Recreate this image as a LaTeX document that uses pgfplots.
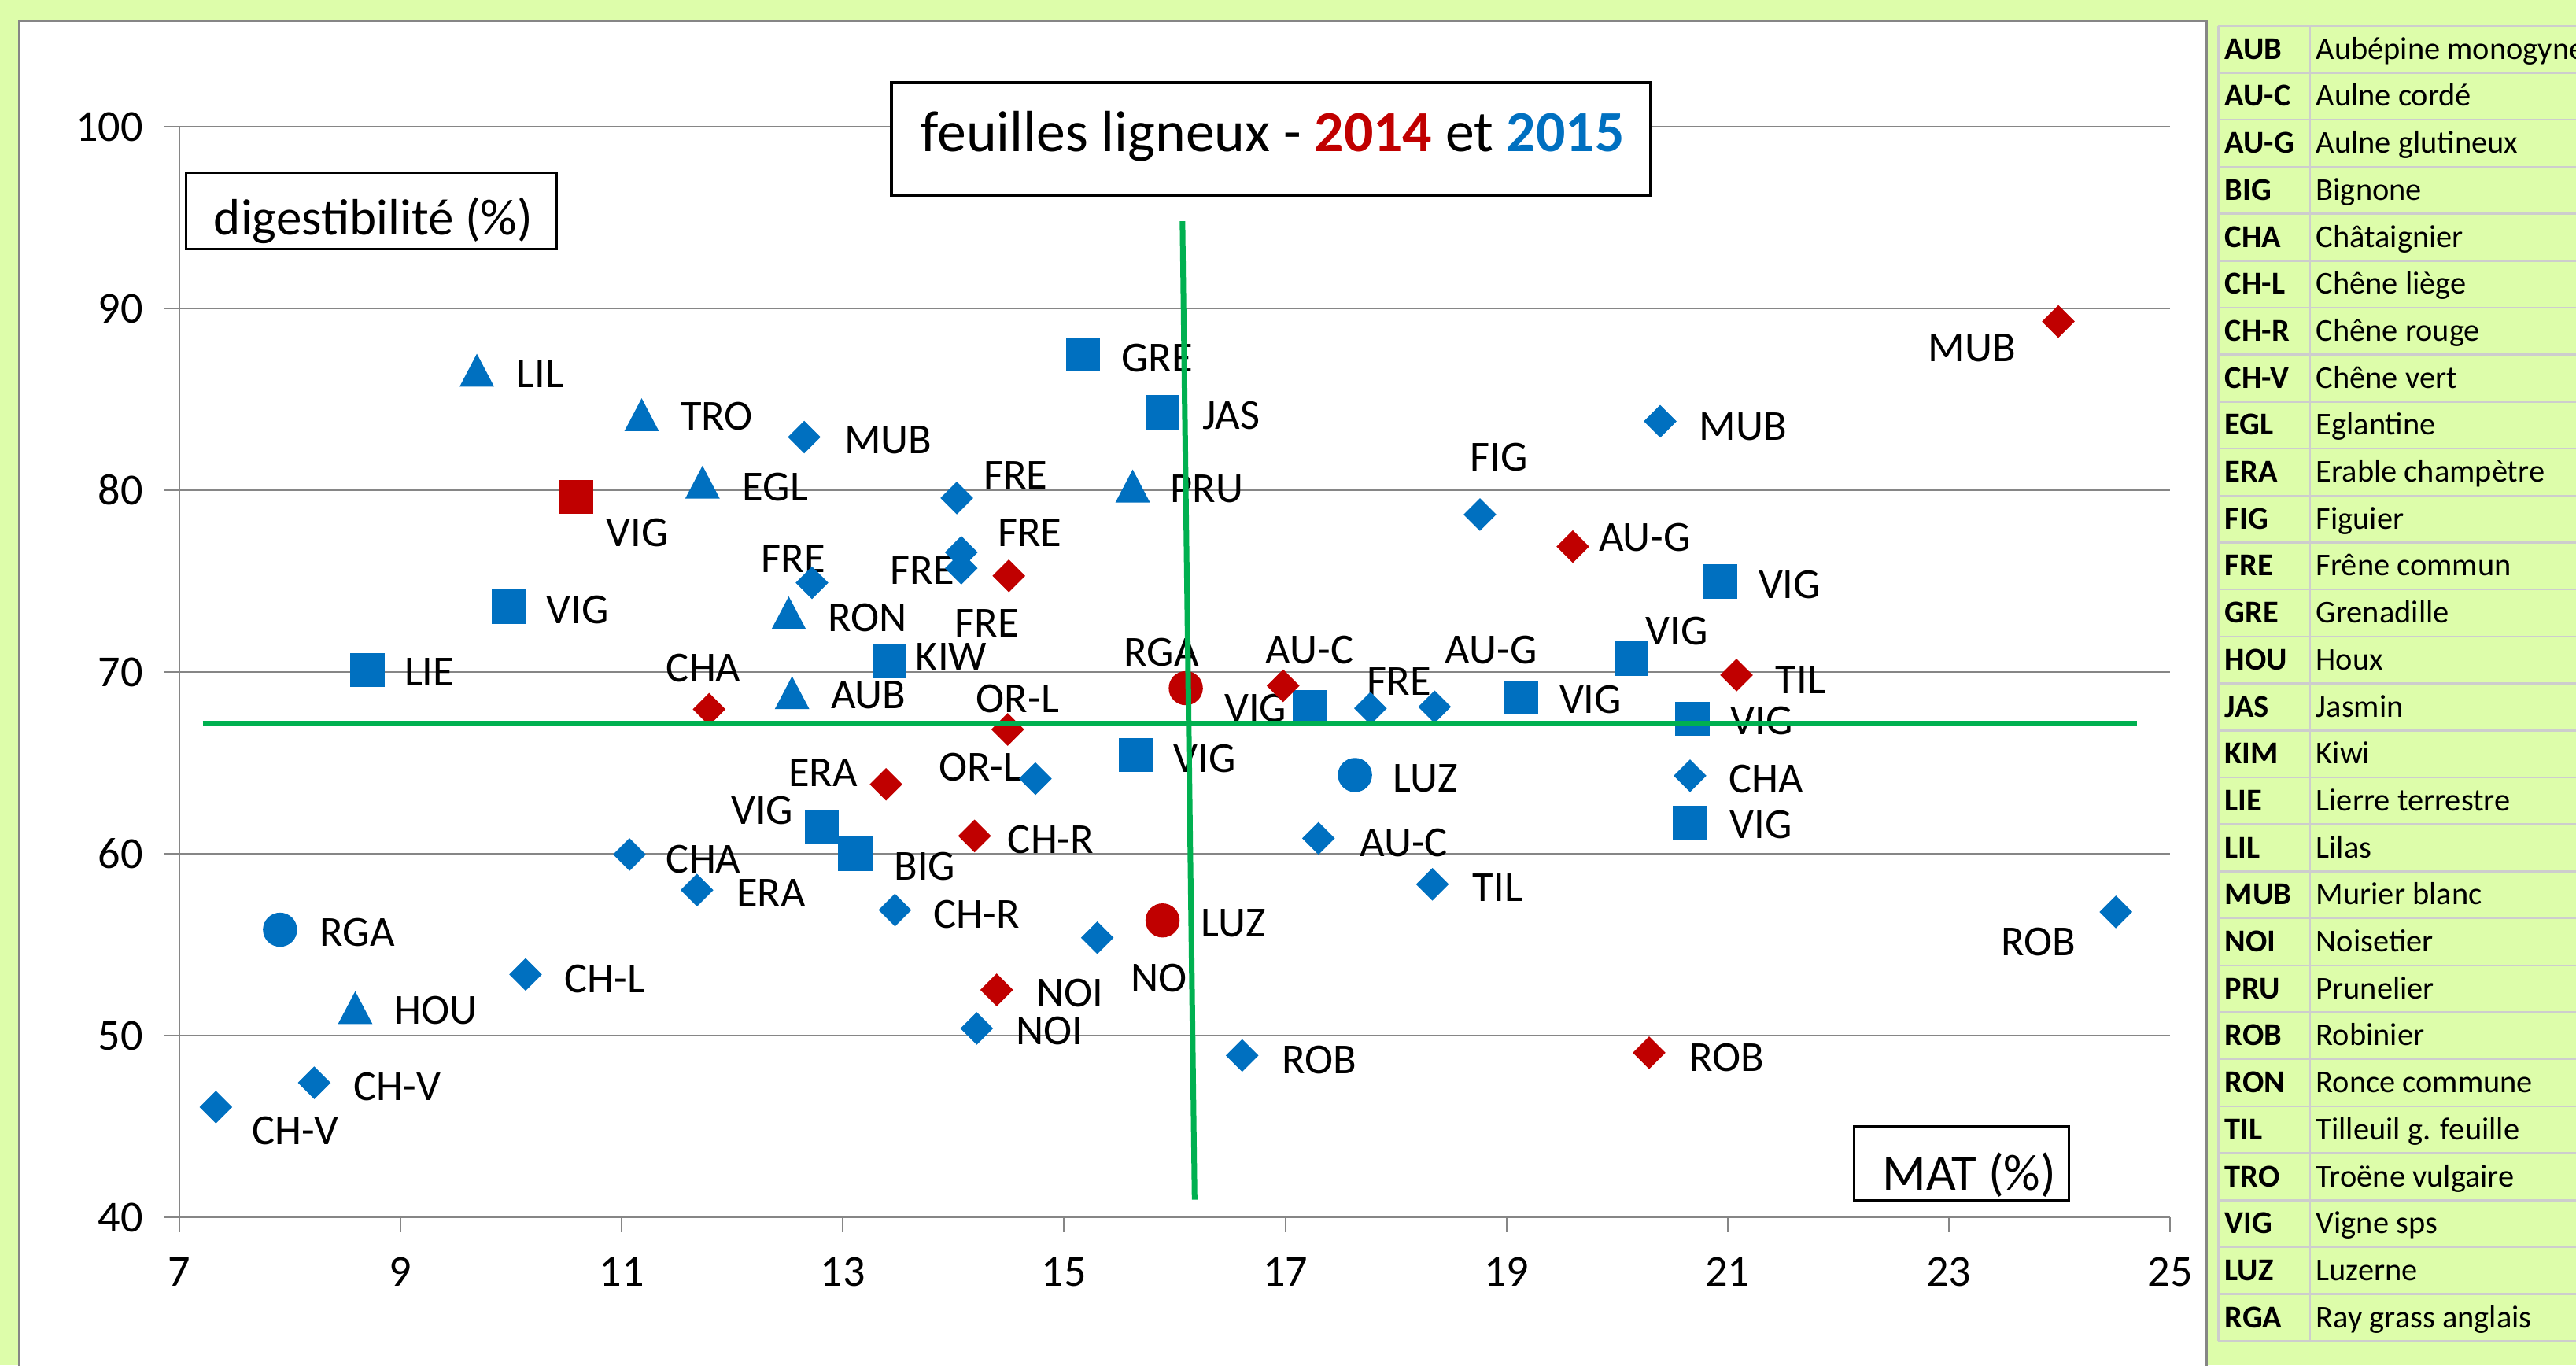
\documentclass[border=0pt]{standalone}
\usepackage{pgfplots}
\pgfplotsset{compat=1.18}
\usepackage{fontspec}
\setmainfont{Carlito}
\definecolor{bgg}{RGB}{221,253,170}
\definecolor{cblue}{RGB}{0,112,192}
\definecolor{cred}{RGB}{192,0,0}
\definecolor{cgreen}{RGB}{0,176,80}
\definecolor{gridg}{RGB}{134,134,134}
\definecolor{tabline}{RGB}{205,205,205}
\newcommand{\lb}[3]{\node[font=\fontsize{15.5}{18}\selectfont, inner sep=0pt] at (axis cs:#1,#2) {#3};}
\pgfplotsset{
  base/.style={at={(2.28cm,1.88cm)}, anchor=south west, scale only axis,
    width=25.30cm, height=13.86cm, xmin=7, xmax=25, ymin=40, ymax=100, clip=false},
  dia/.style={only marks, mark=square*, mark size=0.14cm, mark options={rotate=45}},
  sq/.style={only marks, mark=square*, mark size=0.21cm},
  tri/.style={only marks, mark=triangle*, mark size=0.24cm, mark options={yscale=1.1}},
  cir/.style={only marks, mark=*, mark size=0.21cm},
}
\begin{document}
\begin{tikzpicture}[x=1cm,y=1cm]
\useasboundingbox (0,0) rectangle (32.74,17.35);
\fill[bgg] (0,0) rectangle (32.74,17.35);
\draw[line width=0.03cm, draw=gridg, fill=white] (0.245,-0.3) rectangle (28.04,17.08);

\begin{axis}[base,
  xtick={7,9,...,25}, ytick={40,50,...,100},
  axis x line*=bottom, axis y line*=left,
  axis line style={gridg, line width=0.02cm},
  ymajorgrids, grid style={gridg, line width=0.02cm},
  tick align=outside, major tick length=0.19cm, tick style={gridg, line width=0.02cm},
  ticklabel style={font=\fontsize{16}{19}\selectfont, text=black},
  /pgf/number format/assume math mode=true,
  yticklabel style={xshift=-0.15cm},
  xticklabel style={yshift=-0.2cm},
]
% 2015 (blue)
\addplot[dia, cblue] coordinates {
 (12.65,82.92) (14.03,79.57) (14.07,76.58) (14.07,75.71) (12.72,74.91)
 (14.74,64.13) (11.07,59.96) (11.68,58.0) (13.47,56.9) (10.13,53.36)
 (8.22,47.4) (7.33,46.06) (15.30,55.38) (14.21,50.39) (16.61,48.9)
 (17.30,60.85) (18.33,58.32) (17.77,68.0) (18.35,68.08) (18.76,78.66)
 (20.39,83.79) (20.66,64.29) (24.51,56.8)};
\addplot[sq, cblue] coordinates {
 (15.17,87.46) (15.89,84.29) (9.98,73.6) (8.70,70.1) (13.42,70.6)
 (15.65,65.42) (12.81,61.5) (13.11,60.0) (17.22,68.08) (19.13,68.59)
 (20.13,70.74) (20.93,74.97) (20.68,67.43) (20.66,61.7)};
\addplot[tri, cblue] coordinates {
 (9.69,86.3) (11.18,83.85) (11.73,80.14) (12.51,72.95) (12.54,68.56)
 (15.62,79.93) (8.59,51.23)};
\addplot[cir, cblue] coordinates {(7.91,55.82) (17.63,64.33)};
% 2014 (red)
\addplot[dia, cred] coordinates {
 (11.79,67.95) (14.5,75.29) (14.49,66.84) (13.39,63.82) (14.19,60.98)
 (14.39,52.51) (16.98,69.24) (19.60,76.9) (21.08,69.83) (23.99,89.28)
 (20.29,49.05)};
\addplot[sq, cred] coordinates {(10.59,79.64)};
\addplot[cir, cred] coordinates {(16.10,69.11) (15.89,56.33)};
% labels
\lb{13.41}{82.74}{MUB}
\lb{14.56}{80.83}{FRE}
\lb{14.69}{77.66}{FRE}
\lb{13.72}{75.6}{FRE}
\lb{12.55}{76.23}{FRE}
\lb{14.24}{64.78}{OR-L}
\lb{11.74}{59.7}{CHA}
\lb{12.35}{57.84}{ERA}
\lb{14.21}{56.67}{CH-R}
\lb{10.85}{53.1}{CH-L}
\lb{8.97}{47.19}{CH-V}
\lb{8.05}{44.77}{CH-V}
\node[font=\fontsize{15.5}{18}\selectfont, inner sep=0pt, anchor=west] at (axis cs:15.60,53.18) {NOI};
\lb{14.87}{50.27}{NOI}
\lb{17.31}{48.64}{ROB}
\lb{18.07}{60.59}{AU-C}
\lb{18.92}{58.14}{TIL}
\lb{18.03}{69.5}{FRE}
\lb{18.86}{71.19}{AU-G}
\lb{18.93}{81.8}{FIG}
\lb{21.14}{83.49}{MUB}
\lb{21.35}{64.13}{CHA}
\lb{23.81}{55.17}{ROB}
\lb{15.84}{87.29}{GRE}
\lb{16.51}{84.1}{JAS}
\lb{10.60}{73.42}{VIG}
\lb{9.26}{70.0}{LIE}
\lb{13.98}{70.82}{KIW}
\lb{16.27}{65.24}{VIG}
\lb{12.27}{62.4}{VIG}
\lb{13.74}{59.31}{BIG}
\lb{16.73}{68.0}{VIG}
\lb{19.76}{68.47}{VIG}
\lb{20.54}{72.23}{VIG}
\lb{21.56}{74.79}{VIG}
\lb{21.31}{67.3}{VIG}
\lb{21.30}{61.62}{VIG}
\lb{10.26}{86.4}{LIL}
\lb{11.86}{84.07}{TRO}
\lb{12.39}{80.18}{EGL}
\lb{13.22}{72.98}{RON}
\lb{13.23}{68.72}{AUB}
\lb{16.29}{80.06}{PRU}
\lb{9.32}{51.38}{HOU}
\lb{8.61}{55.69}{RGA}
\lb{18.27}{64.13}{LUZ}
\lb{11.74}{70.2}{CHA}
\lb{14.30}{72.68}{FRE}
\lb{14.58}{68.53}{OR-L}
\lb{12.82}{64.46}{ERA}
\lb{14.88}{60.78}{CH-R}
\lb{15.05}{52.34}{NOI}
\lb{17.22}{71.19}{AU-C}
\lb{20.25}{77.4}{AU-G}
\lb{21.66}{69.57}{TIL}
\lb{23.21}{87.84}{MUB}
\lb{20.99}{48.8}{ROB}
\lb{11.14}{77.66}{VIG}
\lb{15.88}{71.06}{RGA}
\lb{16.53}{56.2}{LUZ}
\end{axis}

\begin{axis}[base, hide axis]
\addplot[cgreen, line width=0.07cm] coordinates {(7.21,67.15) (24.70,67.15)};
\addplot[cgreen, line width=0.07cm] coordinates {(16.07,94.8) (16.18,40.97)};
\end{axis}

% title and axis-name boxes
\node[draw=black, line width=0.035cm, fill=white, minimum width=9.65cm, minimum height=1.43cm, inner sep=0pt] at (16.155,15.585) {};
\node[anchor=base, inner sep=0pt, font=\fontsize{21}{25}\selectfont] at (16.175,15.427)
  {feuilles ligneux - \textbf{\color{cred}2014} et \textbf{\color{cblue}2015}};
\node[draw=black, line width=0.03cm, fill=white, minimum width=4.71cm, minimum height=0.97cm, inner sep=0pt] at (4.715,14.665) {};
\node[anchor=base, inner sep=0pt, font=\fontsize{18.5}{22}\selectfont] at (4.746,14.365) {digestibilité (\%)};
\node[draw=black, line width=0.03cm, fill=white, minimum width=2.73cm, minimum height=0.94cm, inner sep=0pt] at (24.925,2.56) {};
\node[anchor=base, inner sep=0pt, font=\fontsize{18.5}{22}\selectfont] at (25.03,2.224) {MAT (\%)};

% code table
\begin{scope}
\clip (28.1,0) rectangle (32.74,17.35);
\foreach \c/\n [count=\i from 0] in {AUB/Aubépine monogyne, AU-C/Aulne cordé, AU-G/Aulne glutineux, BIG/Bignone, CHA/Châtaignier, CH-L/Chêne liège, CH-R/Chêne rouge, CH-V/Chêne vert, EGL/Eglantine, ERA/Erable champètre, FIG/Figuier, FRE/Frêne commun, GRE/Grenadille, HOU/Houx, JAS/Jasmin, KIM/Kiwi, LIE/Lierre terrestre, LIL/Lilas, MUB/Murier blanc, NOI/Noisetier, PRU/Prunelier, ROB/Robinier, RON/Ronce commune, TIL/Tilleuil g. feuille, TRO/Troëne vulgaire, VIG/Vigne sps, LUZ/Luzerne, RGA/Ray grass anglais}{
  \pgfmathsetmacro{\yt}{17.022-0.597*\i}
  \pgfmathsetmacro{\yb}{\yt-0.425}
  \node[anchor=base west, inner sep=0pt, font=\fontsize{11.5}{13}\selectfont\bfseries] at (28.27,\yb) {\c};
  \node[anchor=base west, inner sep=0pt, font=\fontsize{11.5}{13}\selectfont] at (29.43,\yb) {\n};
}
\foreach \i in {0,...,28}{
  \draw[tabline, line width=0.025cm] (28.19,17.022-0.597*\i) -- (33.5,17.022-0.597*\i);
}
\draw[tabline, line width=0.03cm] (28.19,17.022) -- (28.19,0.306);
\draw[tabline, line width=0.025cm] (29.36,17.022) -- (29.36,0.306);
\end{scope}
\end{tikzpicture}
\end{document}
